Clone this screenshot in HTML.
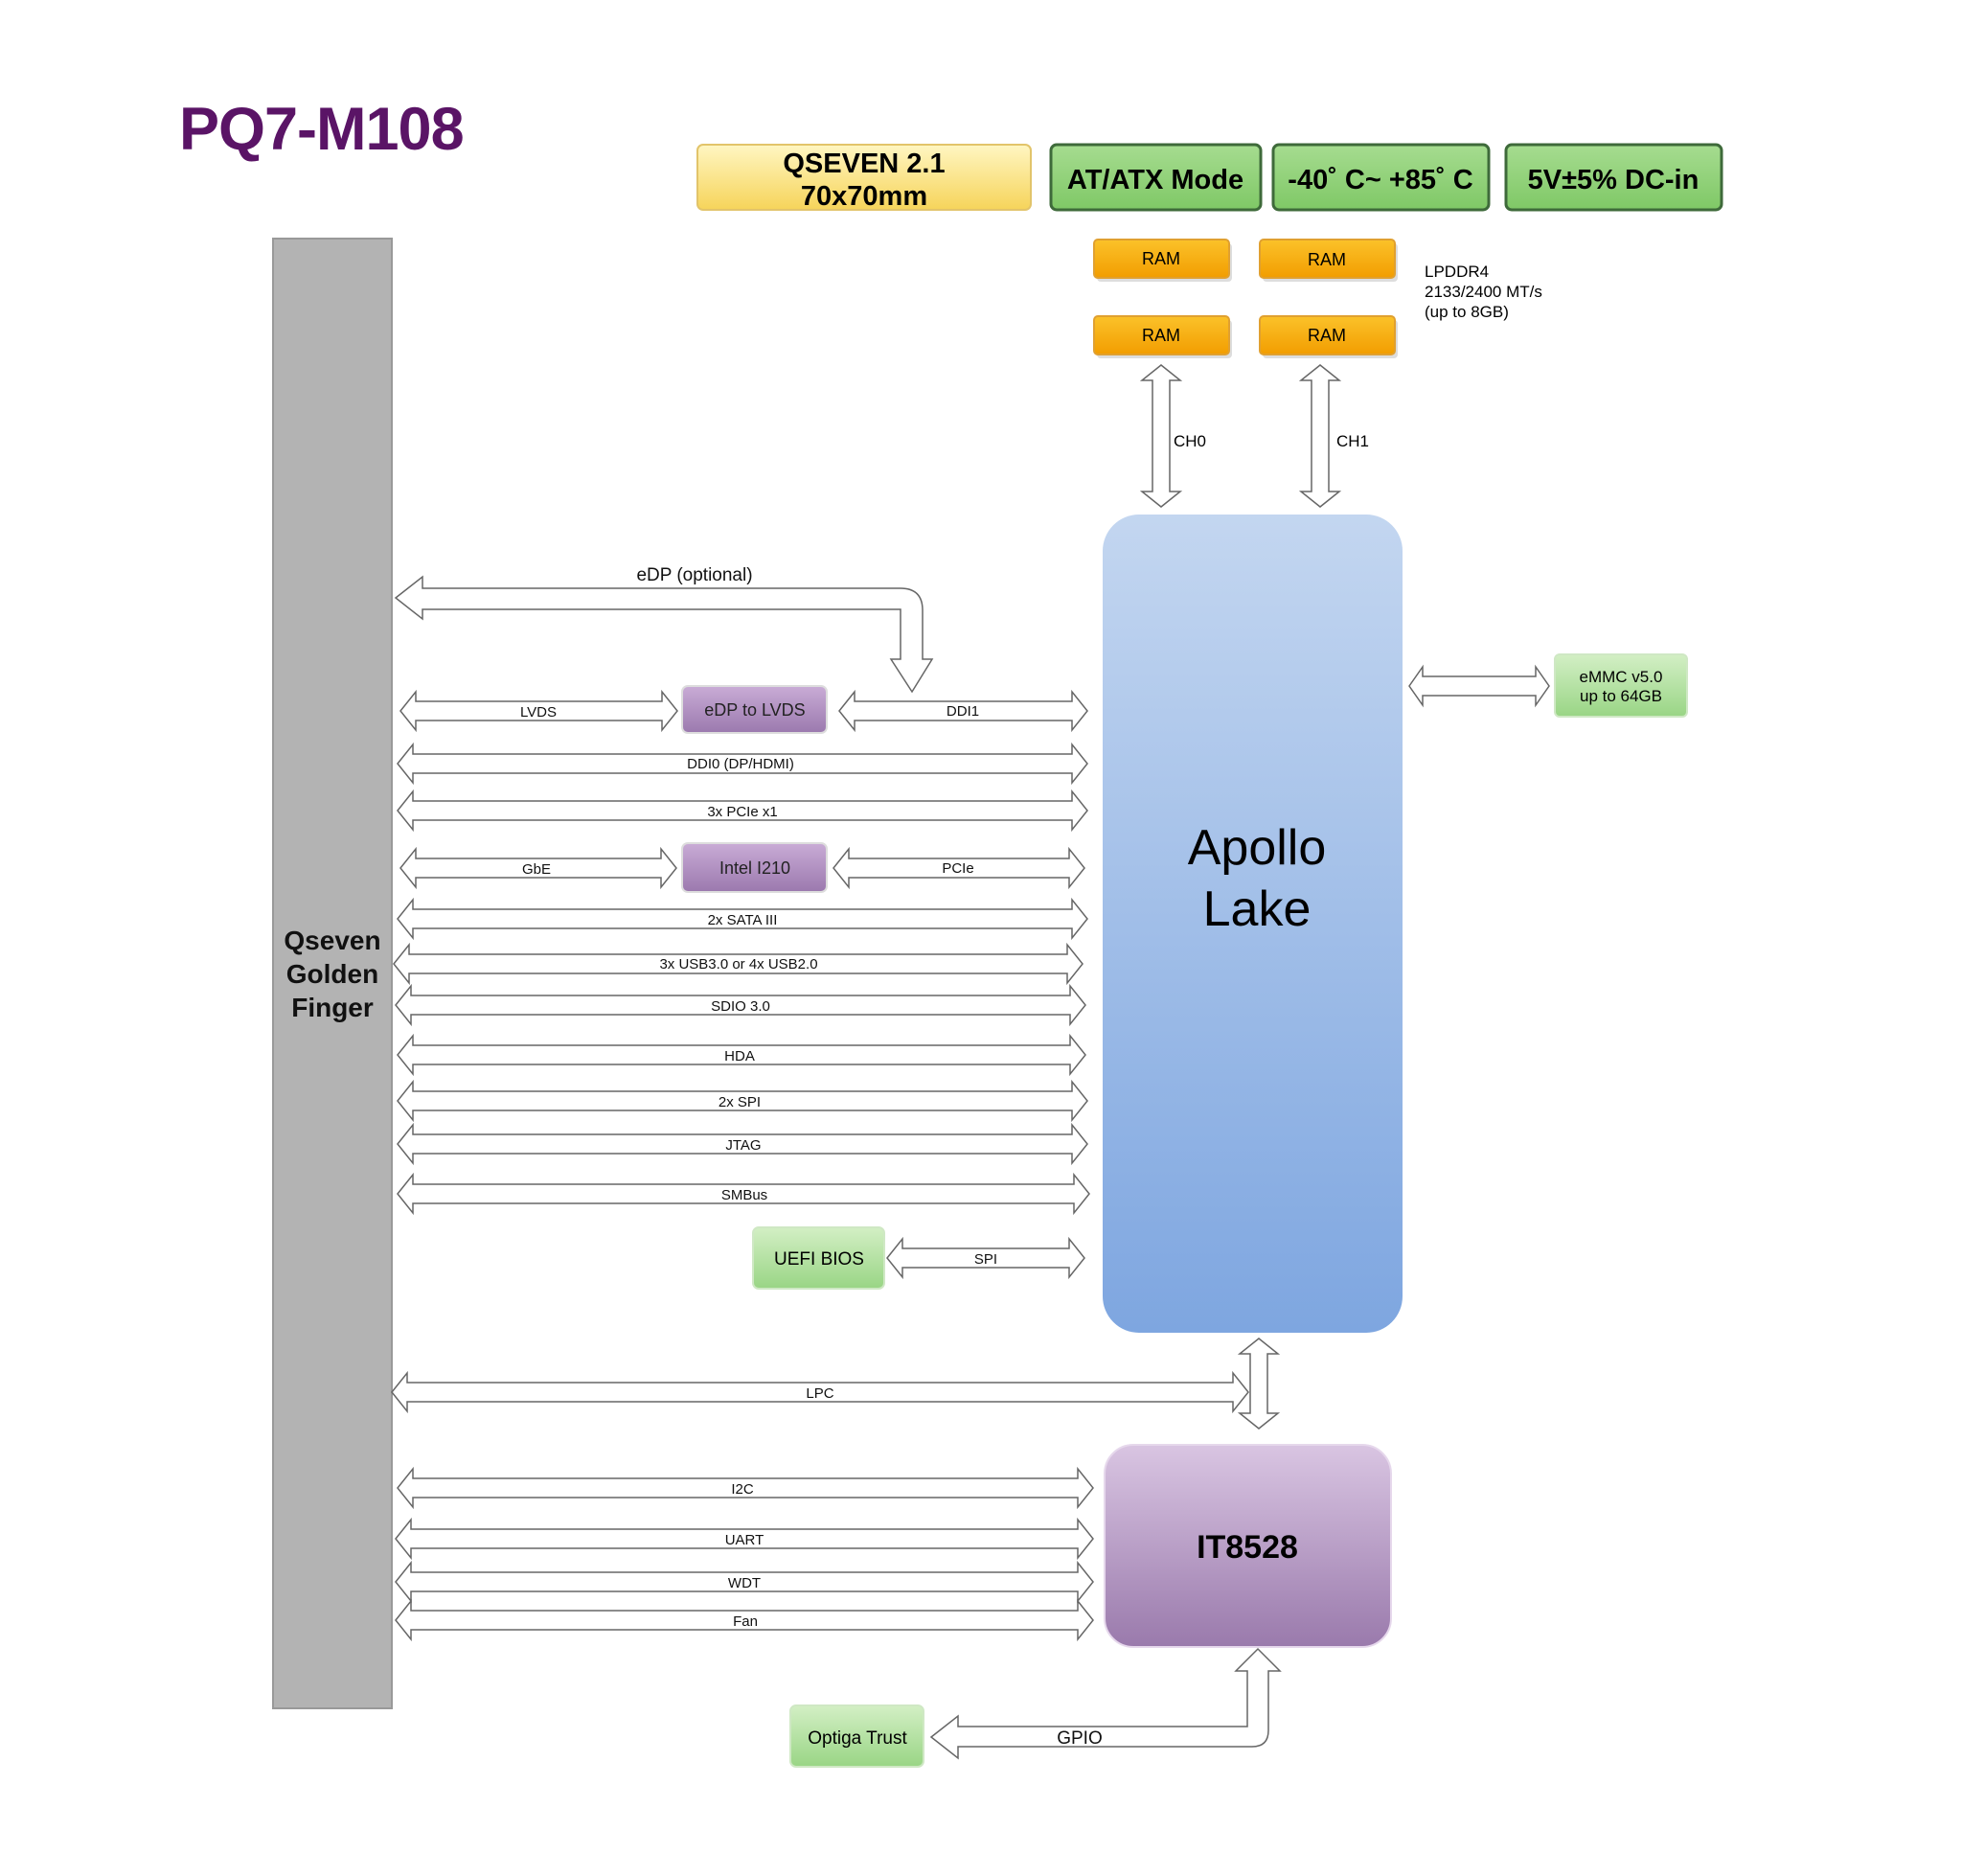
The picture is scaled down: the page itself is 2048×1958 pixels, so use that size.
<!DOCTYPE html>
<html><head><meta charset="utf-8"><style>
body{margin:0;background:#fff;}
svg{display:block;font-family:"Liberation Sans",sans-serif;}
</style></head><body>
<svg id="s" width="2048" height="1958" viewBox="0 0 2048 1958" xmlns="http://www.w3.org/2000/svg">
<defs>
<linearGradient id="gy" x1="0" y1="0" x2="0" y2="1"><stop offset="0" stop-color="#fff6c2"/><stop offset="1" stop-color="#f6d45a"/></linearGradient>
<linearGradient id="gg" x1="0" y1="0" x2="0" y2="1"><stop offset="0" stop-color="#a6dc90"/><stop offset="1" stop-color="#7fc866"/></linearGradient>
<linearGradient id="go" x1="0" y1="0" x2="0" y2="1"><stop offset="0" stop-color="#fbc22a"/><stop offset="1" stop-color="#f29d00"/></linearGradient>
<linearGradient id="gb" x1="0" y1="0" x2="0" y2="1"><stop offset="0" stop-color="#c3d6f0"/><stop offset="1" stop-color="#7ea6e0"/></linearGradient>
<linearGradient id="gp" x1="0" y1="0" x2="0" y2="1"><stop offset="0" stop-color="#d9c5e2"/><stop offset="1" stop-color="#9a7aac"/></linearGradient>
<linearGradient id="gp2" x1="0" y1="0" x2="0" y2="1"><stop offset="0" stop-color="#c9acd6"/><stop offset="1" stop-color="#9b79ae"/></linearGradient>
<linearGradient id="gl" x1="0" y1="0" x2="0" y2="1"><stop offset="0" stop-color="#d3efc5"/><stop offset="1" stop-color="#99d585"/></linearGradient>
</defs>
<text x="187" y="156" font-size="63" font-weight="bold" fill="#5a1466" letter-spacing="-1">PQ7-M108</text>

<rect x="728" y="151" width="348" height="68" rx="6" fill="url(#gy)" stroke="#e2c46a" stroke-width="2"/>
<text x="902" y="180" font-size="29" font-weight="bold" text-anchor="middle">QSEVEN 2.1</text>
<text x="902" y="214" font-size="29" font-weight="bold" text-anchor="middle">70x70mm</text>
<rect x="1097" y="151" width="219" height="68" rx="6" fill="url(#gg)" stroke="#3e6a3a" stroke-width="3"/>
<text x="1206" y="197" font-size="29" font-weight="bold" text-anchor="middle">AT/ATX Mode</text>
<rect x="1329" y="151" width="225" height="68" rx="6" fill="url(#gg)" stroke="#3e6a3a" stroke-width="3"/>
<text x="1441" y="197" font-size="29" font-weight="bold" text-anchor="middle">-40˚ C~ +85˚ C</text>
<rect x="1572" y="151" width="225" height="68" rx="6" fill="url(#gg)" stroke="#3e6a3a" stroke-width="3"/>
<text x="1684" y="197" font-size="29" font-weight="bold" text-anchor="middle">5V±5% DC-in</text>

<rect x="285" y="249" width="124" height="1534" fill="#b3b3b3" stroke="#999" stroke-width="2"/>
<text x="347" y="991" font-size="28" font-weight="bold" text-anchor="middle" fill="#111">Qseven</text>
<text x="347" y="1026" font-size="28" font-weight="bold" text-anchor="middle" fill="#111">Golden</text>
<text x="347" y="1061" font-size="28" font-weight="bold" text-anchor="middle" fill="#111">Finger</text>

<g font-size="18" text-anchor="middle">
<rect x="1145" y="254" width="141" height="40" rx="4" fill="#ddd"/>
<rect x="1318" y="254" width="141" height="40" rx="4" fill="#ddd"/>
<rect x="1145" y="334" width="141" height="40" rx="4" fill="#ddd"/>
<rect x="1318" y="334" width="141" height="40" rx="4" fill="#ddd"/>
<rect x="1142" y="250" width="141" height="40" rx="4" fill="url(#go)" stroke="#e0a030" stroke-width="2"/>
<rect x="1315" y="250" width="141" height="40" rx="4" fill="url(#go)" stroke="#e0a030" stroke-width="2"/>
<rect x="1142" y="330" width="141" height="40" rx="4" fill="url(#go)" stroke="#e0a030" stroke-width="2"/>
<rect x="1315" y="330" width="141" height="40" rx="4" fill="url(#go)" stroke="#e0a030" stroke-width="2"/>
<text x="1212" y="276">RAM</text><text x="1385" y="277">RAM</text>
<text x="1212" y="356">RAM</text><text x="1385" y="356">RAM</text>
</g>
<g font-size="17"><text x="1487" y="289">LPDDR4</text><text x="1487" y="310">2133/2400 MT/s</text><text x="1487" y="331">(up to 8GB)</text>
<text x="1225" y="466">CH0</text><text x="1395" y="466">CH1</text></g>

<rect x="1151" y="537" width="313" height="854" rx="38" fill="url(#gb)"/>
<text x="1312" y="902" font-size="52" text-anchor="middle">Apollo</text>
<text x="1312" y="966" font-size="52" text-anchor="middle">Lake</text>

<rect x="1623" y="683" width="138" height="65" rx="5" fill="url(#gl)" stroke="#cfe8c4" stroke-width="2"/>
<text x="1692" y="712" font-size="17" text-anchor="middle">eMMC v5.0</text>
<text x="1692" y="732" font-size="17" text-anchor="middle">up to 64GB</text>

<rect x="712" y="716" width="151" height="49" rx="6" fill="url(#gp2)" stroke="#ddd" stroke-width="2"/>
<text x="788" y="747" font-size="18" text-anchor="middle" fill="#222">eDP to LVDS</text>
<rect x="712" y="880" width="151" height="51" rx="6" fill="url(#gp2)" stroke="#ddd" stroke-width="2"/>
<text x="788" y="912" font-size="18" text-anchor="middle" fill="#222">Intel I210</text>
<rect x="786" y="1281" width="137" height="64" rx="6" fill="url(#gl)" stroke="#cfe8c4" stroke-width="2"/>
<text x="855" y="1320" font-size="19" text-anchor="middle">UEFI BIOS</text>
<rect x="1153" y="1508" width="299" height="211" rx="30" fill="url(#gp)" stroke="#e6d8ec" stroke-width="2"/>
<text x="1302" y="1626" font-size="34" font-weight="bold" text-anchor="middle">IT8528</text>
<rect x="825" y="1780" width="139" height="64" rx="6" fill="url(#gl)" stroke="#cfe8c4" stroke-width="2"/>
<text x="895" y="1820" font-size="19" text-anchor="middle">Optiga Trust</text>

<g id="arr" fill="#fff" stroke="#666" stroke-width="1.5"></g>
<path d="M413,624 L441,602 L441,614 L940,614 Q963,614 963,637 L963,688 L973,688 L952,722 L930,688 L940,688 L940,636 L441,636 L441,646 Z" fill="#fff" stroke="#666" stroke-width="1.5"/>
<path d="M972,1813 L1000,1791 L1000,1802 L1302,1802 L1302,1744 L1290,1744 L1313,1721 L1336,1744 L1324,1744 L1324,1806 Q1324,1823 1307,1823 L1000,1823 L1000,1835 Z" fill="#fff" stroke="#666" stroke-width="1.5"/>

<g font-size="15" text-anchor="middle" fill="#111">
<text x="725" y="606" font-size="19">eDP (optional)</text>
<text x="562" y="748">LVDS</text><text x="1005" y="747">DDI1</text>
<text x="773" y="802">DDI0 (DP/HDMI)</text>
<text x="775" y="852">3x PCIe x1</text>
<text x="560" y="912">GbE</text><text x="1000" y="911">PCIe</text>
<text x="775" y="965">2x SATA III</text>
<text x="771" y="1011">3x USB3.0 or 4x USB2.0</text>
<text x="773" y="1055">SDIO 3.0</text>
<text x="772" y="1107">HDA</text>
<text x="772" y="1155">2x SPI</text>
<text x="776" y="1200">JTAG</text>
<text x="777" y="1252">SMBus</text>
<text x="1029" y="1319">SPI</text>
<text x="856" y="1459">LPC</text>
<text x="775" y="1559">I2C</text>
<text x="777" y="1612">UART</text>
<text x="777" y="1657">WDT</text>
<text x="778" y="1697">Fan</text>
<text x="1127" y="1820" font-size="19">GPIO</text>
</g>
</svg>
<script>
var g=document.getElementById('arr');
function h(x1,x2,y,s,hh,hl){s=s||10;hh=hh||20;hl=hl||16;
var p=[[x1,y],[x1+hl,y-hh],[x1+hl,y-s],[x2-hl,y-s],[x2-hl,y-hh],[x2,y],[x2-hl,y+hh],[x2-hl,y+s],[x1+hl,y+s],[x1+hl,y+hh]];
add(p);}
function v(x,y1,y2,s,hh,hl){s=s||9;hh=hh||20;hl=hl||16;
var p=[[x,y1],[x+hh,y1+hl],[x+s,y1+hl],[x+s,y2-hl],[x+hh,y2-hl],[x,y2],[x-hh,y2-hl],[x-s,y2-hl],[x-s,y1+hl],[x-hh,y1+hl]];
add(p);}
function add(p){var e=document.createElementNS('http://www.w3.org/2000/svg','polygon');e.setAttribute('points',p.map(function(a){return a.join(',')}).join(' '));g.appendChild(e);}
v(1212,381,529);v(1378,381,529);
h(1471,1617,716,10,20,14);
h(418,707,742);h(876,1135,742);
h(415,1135,797);h(415,1135,846);
h(418,706,906);h(870,1132,906);
h(415,1135,959);h(411,1130,1006);h(413,1133,1049);h(415,1133,1101);
h(415,1135,1149);h(415,1135,1194);h(415,1137,1246);
h(926,1132,1313);
h(409,1303,1453);v(1314,1397,1491);
h(415,1141,1553);h(413,1141,1606);h(413,1141,1651);h(413,1141,1691);
</script>
</body></html>
